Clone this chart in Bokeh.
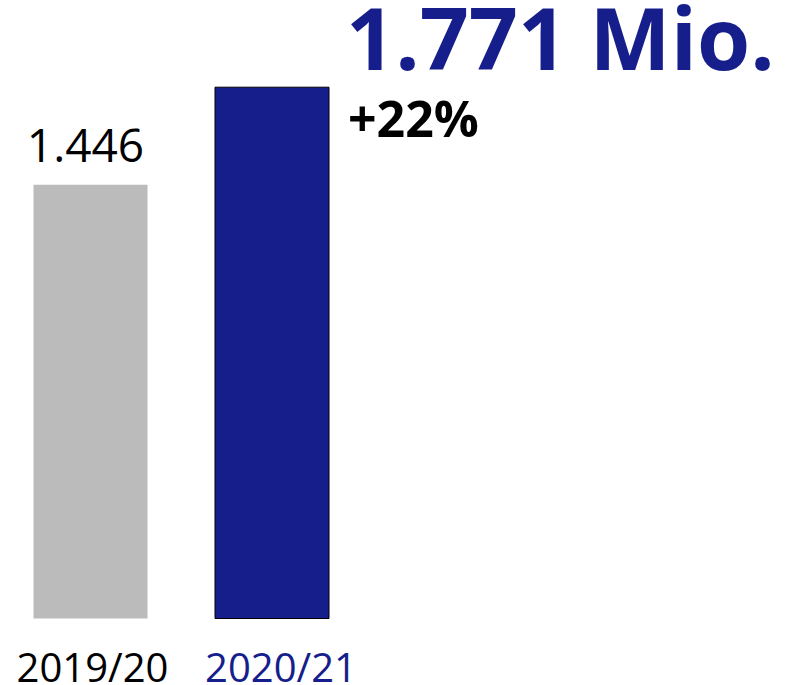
from bokeh.plotting import figure
from bokeh.models import Range1d
from bokeh.core.properties import value
from bokeh.embed import file_html
from bokeh.resources import INLINE

# Data
seasons = ["2019/20", "2020/21"]
values = [1.446, 1.771]
value_labels = ["1.446", "1.771 Mio."]
change_label = "+22%"
bar_colors = ["#BBBBBC", "#161E8C"]
outline_colors = [None, "#000000"]
label_colors = ["#000000", "#161E8C"]

W, H = 786, 685
px_per_x = 181.5
px_per_y = 300.0
x0 = -90 / px_per_x
y0 = -(H - 618) / px_per_y

p = figure(width=W, height=H, output_backend="svg", toolbar_location=None,
           x_range=Range1d(x0, x0 + W / px_per_x),
           y_range=Range1d(y0, y0 + H / px_per_y),
           min_border=0)
p.axis.visible = False
p.grid.visible = False
p.outline_line_color = None
p.background_fill_color = "white"

xs = list(range(len(values)))
for i in xs:
    p.vbar(x=[i], top=[values[i]], bottom=0, width=114 / px_per_x,
           fill_color=bar_colors[i], line_color=outline_colors[i], line_width=1)

font = value("Open Sans")

# previous season value above bar
p.text(x=[xs[0]], y=[values[0]], text=[value_labels[0]], text_font=font,
       text_font_size="46px", text_color="#000000", text_align="center",
       text_baseline="alphabetic", x_offset=-5, y_offset=-39)

# current season headline
p.text(x=[xs[1]], y=[values[1]], text=[value_labels[1]], text_font=font,
       text_font_size="86px", text_font_style="bold", text_color=label_colors[1],
       text_align="left", text_baseline="alphabetic", x_offset=74, y_offset=-51)

p.text(x=[xs[1]], y=[values[1]], text=[change_label], text_font=font,
       text_font_size="50px", text_font_style="bold", text_color="#000000",
       text_align="left", text_baseline="alphabetic", x_offset=76, y_offset=31)

# category labels
offs = [2, 9]
for i in xs:
    p.text(x=[i], y=[0], text=[seasons[i]], text_font=font,
           text_font_size="40px", text_color=label_colors[i], text_align="center",
           text_baseline="alphabetic", x_offset=offs[i], y_offset=48)

open("out.html", "w").write(file_html(p, INLINE))
